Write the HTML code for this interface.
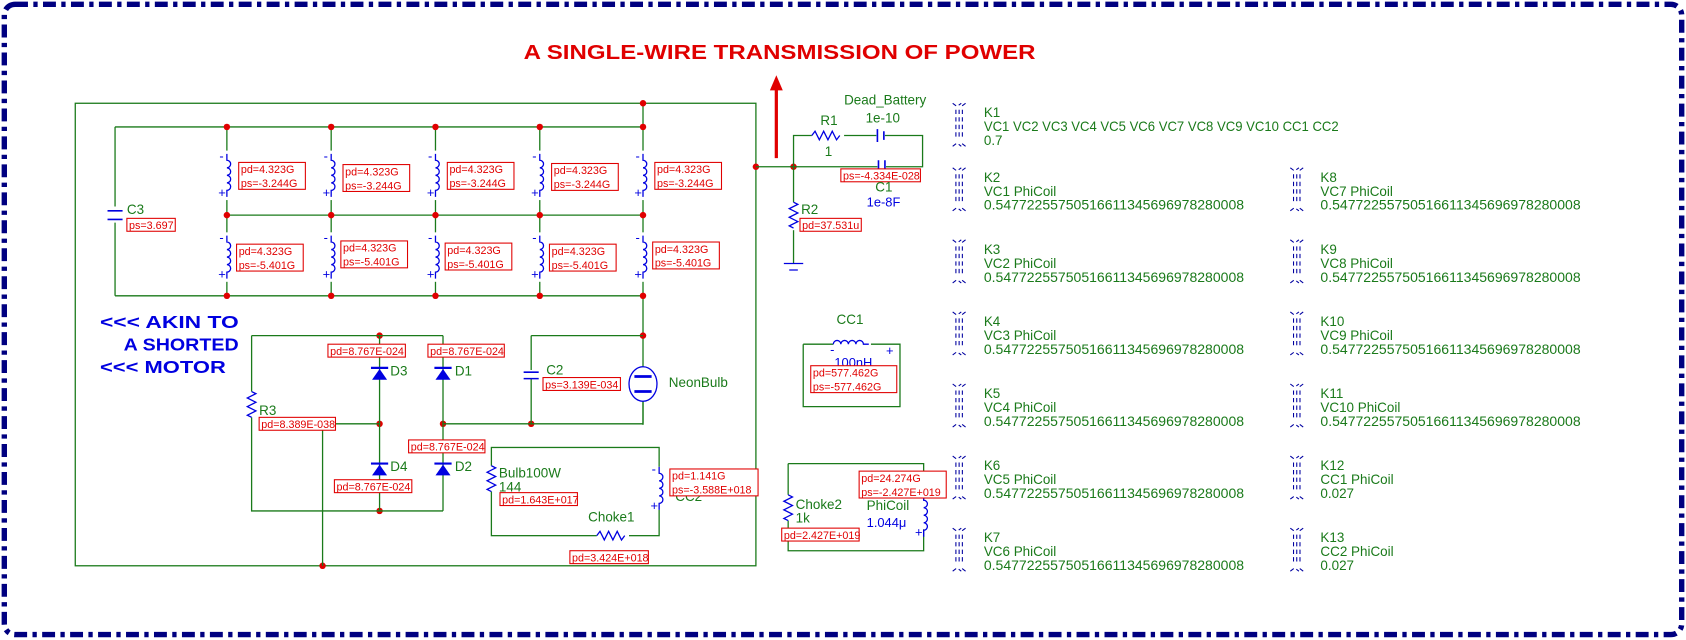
<!DOCTYPE html>
<html><head><meta charset="utf-8"><style>
html,body{margin:0;padding:0;background:#fff;}
svg{display:block;}
text{font-family:"Liberation Sans",sans-serif;}
.g{fill:#1a7a1a;font-size:12.5px;}
.b{fill:#0000e0;font-size:12px;}
.r{fill:#e00000;font-size:10px;}
.lb{fill:#fff;stroke:#e00000;stroke-width:1;}
.w{stroke:#1a7a1a;stroke-width:1.2;fill:none;}
.bl{stroke:#0000e0;stroke-width:1.2;fill:none;}
.k{stroke:#0000a0;stroke-width:1;fill:none;}
</style></head><body>
<svg width="1686" height="640" viewBox="0 0 1568 595" preserveAspectRatio="none" xmlns="http://www.w3.org/2000/svg">
<defs>
<g id="ind"><path d="M0 0 v6 a3.5 3.5 0 1 1 0 7 a3.5 3.5 0 1 1 0 7 a3.5 3.5 0 1 1 0 7 a3.5 3.5 0 1 1 0 7 v6" class="bl"/><text x="-7" y="6" class="b" font-size="9">-</text><text x="-8" y="40" class="b" font-size="9">+</text></g>
<g id="cp"><g class="k"><path d="M0 0 l4 3 l4 -3 M0 40 l4 -3 l4 3 M12 0 l-4 3 M12 40 l-4 -3 M3 6 v28 M6 6 v28 M9 6 v28" stroke-dasharray="4 3"/></g></g>
<g id="res"><path d="M0 0 l4 2 l-8 4 l8 4 l-8 4 l8 4 l-8 4 l4 2" class="bl"/></g>
</defs>
<rect x="4" y="4" width="1560" height="586" rx="10" fill="none" stroke="#000080" stroke-width="5" stroke-dasharray="12 5 4 5"/>
<text x="487" y="55" font-size="19" font-weight="bold" fill="#e00000" textLength="476" lengthAdjust="spacingAndGlyphs">A SINGLE-WIRE TRANSMISSION OF POWER</text>
<path d="M722 147 V80" stroke="#e00000" stroke-width="3"/><path d="M716 84 L722 70 L728 84Z" fill="#e00000"/>

<rect x="70" y="96" width="633" height="430" class="w"/>
<path class="w" d="M107 118 H598 M211 200 H598 M107 275 H598 M107 118 V192 M107 207 V275 M211 118 V275 M308 118 V275 M405 118 V275 M502 118 V275 M598 96 V395"/>
<path d="M100 196 H114 M100 204 H114" stroke="#0000e0" stroke-width="1.5"/>
<text x="118" y="199" class="g">C3</text>
<rect x="118" y="203" width="45" height="12" class="lb"/><text x="120" y="213" class="r">ps=3.697</text>

<g fill="#e00000">
<circle cx="598" cy="96" r="3"/>
<circle cx="211" cy="118" r="3"/><circle cx="308" cy="118" r="3"/><circle cx="405" cy="118" r="3"/><circle cx="502" cy="118" r="3"/><circle cx="598" cy="118" r="3"/>
<circle cx="211" cy="200" r="3"/><circle cx="308" cy="200" r="3"/><circle cx="405" cy="200" r="3"/><circle cx="502" cy="200" r="3"/><circle cx="598" cy="200" r="3"/>
<circle cx="211" cy="275" r="3"/><circle cx="308" cy="275" r="3"/><circle cx="405" cy="275" r="3"/><circle cx="502" cy="275" r="3"/><circle cx="598" cy="275" r="3"/>
<circle cx="353" cy="312" r="3"/><circle cx="598" cy="312" r="3"/><circle cx="353" cy="394" r="3"/><circle cx="412" cy="394" r="3"/><circle cx="494" cy="394" r="3"/><circle cx="353" cy="475" r="3"/><circle cx="300" cy="526" r="3"/>
<circle cx="703" cy="155" r="3"/><circle cx="738" cy="155" r="3"/>
</g>

<g>
<rect x="205" y="140" width="12" height="46" fill="#fff"/><use href="#ind" x="211" y="143"/>
<rect x="302" y="140" width="12" height="46" fill="#fff"/><use href="#ind" x="308" y="143"/>
<rect x="399" y="140" width="12" height="46" fill="#fff"/><use href="#ind" x="405" y="143"/>
<rect x="496" y="140" width="12" height="46" fill="#fff"/><use href="#ind" x="502" y="143"/>
<rect x="592" y="140" width="12" height="46" fill="#fff"/><use href="#ind" x="598" y="143"/>
<rect x="205" y="216" width="12" height="46" fill="#fff"/><use href="#ind" x="211" y="219"/>
<rect x="302" y="216" width="12" height="46" fill="#fff"/><use href="#ind" x="308" y="219"/>
<rect x="399" y="216" width="12" height="46" fill="#fff"/><use href="#ind" x="405" y="219"/>
<rect x="496" y="216" width="12" height="46" fill="#fff"/><use href="#ind" x="502" y="219"/>
<rect x="592" y="216" width="12" height="46" fill="#fff"/><use href="#ind" x="598" y="219"/>
</g>
<g>
<rect x="222" y="151" width="62" height="25" class="lb"/><text x="224" y="161" class="r">pd=4.323G</text><text x="224" y="174" class="r">ps=-3.244G</text>
<rect x="319" y="153" width="62" height="25" class="lb"/><text x="321" y="163" class="r">pd=4.323G</text><text x="321" y="176" class="r">ps=-3.244G</text>
<rect x="416" y="151" width="62" height="25" class="lb"/><text x="418" y="161" class="r">pd=4.323G</text><text x="418" y="174" class="r">ps=-3.244G</text>
<rect x="513" y="152" width="62" height="25" class="lb"/><text x="515" y="162" class="r">pd=4.323G</text><text x="515" y="175" class="r">ps=-3.244G</text>
<rect x="609" y="151" width="62" height="25" class="lb"/><text x="611" y="161" class="r">pd=4.323G</text><text x="611" y="174" class="r">ps=-3.244G</text>
<rect x="220" y="227" width="62" height="25" class="lb"/><text x="222" y="237" class="r">pd=4.323G</text><text x="222" y="250" class="r">ps=-5.401G</text>
<rect x="317" y="224" width="62" height="25" class="lb"/><text x="319" y="234" class="r">pd=4.323G</text><text x="319" y="247" class="r">ps=-5.401G</text>
<rect x="414" y="226" width="62" height="25" class="lb"/><text x="416" y="236" class="r">pd=4.323G</text><text x="416" y="249" class="r">ps=-5.401G</text>
<rect x="511" y="227" width="62" height="25" class="lb"/><text x="513" y="237" class="r">pd=4.323G</text><text x="513" y="250" class="r">ps=-5.401G</text>
<rect x="607" y="225" width="62" height="25" class="lb"/><text x="609" y="235" class="r">pd=4.323G</text><text x="609" y="248" class="r">ps=-5.401G</text>
</g>

<text x="93" y="305" font-size="16" font-weight="bold" fill="#0000e0" textLength="129" lengthAdjust="spacingAndGlyphs">&lt;&lt;&lt; AKIN TO</text>
<text x="115" y="326" font-size="16" font-weight="bold" fill="#0000e0" textLength="107" lengthAdjust="spacingAndGlyphs">A SHORTED</text>
<text x="93" y="347" font-size="16" font-weight="bold" fill="#0000e0" textLength="117" lengthAdjust="spacingAndGlyphs">&lt;&lt;&lt; MOTOR</text>

<path class="w" d="M234 312 H412 M234 312 V364 M234 388 V475 H412 M353 312 V475 M412 312 V475 M311 394 H353 M412 394 H598 M300 394 V526 M494 312 H598 M494 312 V344 M494 352 V394 M598 372 V394"/>
<use href="#res" x="234" y="364"/>
<text x="241" y="386" class="g">R3</text>
<rect x="241" y="388" width="71" height="12" class="lb"/><text x="243" y="398" class="r">pd=8.389E-038</text>
<path d="M487 346 H501 M487 352 H501" stroke="#0000e0" stroke-width="1.5"/>
<text x="508" y="348" class="g">C2</text>
<rect x="505" y="351" width="72" height="12" class="lb"/><text x="507" y="361" class="r">ps=3.139E-034</text>
<ellipse cx="598" cy="357" rx="13" ry="16" fill="#fff" stroke="#0000e0" stroke-width="1.2"/>
<path d="M590 350 H606 M590 364 H606" stroke="#0000e0" stroke-width="2.5"/>
<text x="622" y="360" class="g">NeonBulb</text>
<g fill="#0000e0">
<path d="M346 353 L360 353 L353 343Z"/><path d="M345 342 H361" stroke="#0000e0" stroke-width="2"/>
<path d="M405 353 L419 353 L412 343Z"/><path d="M404 342 H420" stroke="#0000e0" stroke-width="2"/>
<path d="M346 442 L360 442 L353 432Z"/><path d="M345 431 H361" stroke="#0000e0" stroke-width="2"/>
<path d="M405 442 L419 442 L412 432Z"/><path d="M404 431 H420" stroke="#0000e0" stroke-width="2"/>
</g>
<text x="363" y="349" class="g">D3</text><text x="423" y="349" class="g">D1</text>
<text x="363" y="438" class="g">D4</text><text x="423" y="438" class="g">D2</text>
<rect x="305" y="320" width="72" height="12" class="lb"/><text x="307" y="330" class="r">pd=8.767E-024</text>
<rect x="398" y="320" width="71" height="12" class="lb"/><text x="400" y="330" class="r">pd=8.767E-024</text>
<rect x="380" y="409" width="71" height="12" class="lb"/><text x="382" y="419" class="r">pd=8.767E-024</text>
<rect x="311" y="446" width="72" height="12" class="lb"/><text x="313" y="456" class="r">pd=8.767E-024</text>

<rect x="457" y="416" width="156" height="82" class="w"/>
<rect x="452" y="433" width="10" height="24" fill="#fff"/><use href="#res" x="457" y="433"/>
<text x="464" y="444" class="g">Bulb100W</text><text x="464" y="457" class="g">144</text>
<rect x="465" y="458" width="72" height="12" class="lb"/><text x="467" y="468" class="r">pd=1.643E+017</text>
<rect x="606" y="434" width="14" height="40" fill="#fff"/><use href="#ind" x="613" y="434"/>
<text x="628" y="466" class="g">CC2</text>
<rect x="623" y="436" width="82" height="25" class="lb"/><text x="625" y="446" class="r">pd=1.141G</text><text x="625" y="459" class="r">ps=-3.588E+018</text>
<rect x="555" y="494" width="30" height="8" fill="#fff"/>
<path d="M555 498 l3 -4 l4 8 l4 -8 l4 8 l4 -8 l4 8 l3 -4" class="bl"/>
<text x="547" y="485" class="g">Choke1</text>
<rect x="530" y="512" width="73" height="12" class="lb"/><text x="532" y="522" class="r">pd=3.424E+018</text>

<path class="w" d="M703 155 H858 V126 H738 V155 M738 155 V245"/>
<rect x="755" y="122" width="30" height="8" fill="#fff"/>
<path d="M755 126 l3 -4 l4 8 l4 -8 l4 8 l4 -8 l4 8 l3 -4" class="bl"/>
<rect x="815" y="120" width="8" height="12" fill="#fff"/>
<path d="M816 120 V132 M822 122 V130" stroke="#0000e0" stroke-width="1.5"/>
<rect x="816" y="149" width="8" height="12" fill="#fff"/>
<path d="M817 149 V161 M823 149 V161" stroke="#0000e0" stroke-width="1.5"/>
<text x="785" y="97" class="g">Dead_Battery</text>
<text x="805" y="114" class="g">1e-10</text>
<text x="763" y="116" class="g">R1</text><text x="767" y="145" class="g">1</text>
<rect x="782" y="157" width="74" height="12" class="lb"/><text x="784" y="167" class="r">ps=-4.334E-028</text>
<text x="814" y="178" class="g">C1</text><text x="806" y="192" class="b">1e-8F</text>
<rect x="733" y="188" width="10" height="26" fill="#fff"/><use href="#res" x="738" y="188"/>
<text x="745" y="199" class="g">R2</text>
<rect x="744" y="203" width="57" height="12" class="lb"/><text x="746" y="213" class="r">pd=37.531u</text>
<path d="M729 245 H747 M734 251 H742" stroke="#0000e0" stroke-width="1.2"/>

<path class="w" d="M747 320 V378 H837 V320 H810 M747 320 H775"/>
<path d="M775 320 a3.5 3.5 0 1 1 7 0 a3.5 3.5 0 1 1 7 0 a3.5 3.5 0 1 1 7 0 a3.5 3.5 0 1 1 7 0 h5" class="bl"/>
<text x="778" y="301" class="g">CC1</text>
<text x="776" y="341" class="b">100nH</text>
<text x="772" y="329" class="b" font-size="9">-</text><text x="824" y="330" class="b" font-size="9">+</text>
<rect x="754" y="340" width="80" height="25" class="lb"/><text x="756" y="350" class="r">pd=577.462G</text><text x="756" y="363" class="r">ps=-577.462G</text>

<path class="w" d="M733 431 H859 V465 M859 492 V512 H733 V431"/>
<rect x="728" y="460" width="10" height="24" fill="#fff"/><use href="#res" x="733" y="460"/>
<text x="740" y="473" class="g">Choke2</text><text x="740" y="486" class="g">1k</text>
<rect x="727" y="491" width="72" height="12" class="lb"/><text x="729" y="501" class="r">pd=2.427E+019</text>
<use href="#ind" x="859" y="459"/>
<rect x="799" y="438" width="81" height="25" class="lb"/><text x="801" y="448" class="r">pd=24.274G</text><text x="801" y="461" class="r">ps=-2.427E+019</text>
<text x="806" y="474" class="g">PhiCoil</text><text x="806" y="490" class="b">1.044μ</text>

<g>
<use href="#cp" x="886" y="96"/>
<text x="915" y="109" class="g">K1</text><text x="915" y="122" class="g" textLength="330" lengthAdjust="spacingAndGlyphs">VC1 VC2 VC3 VC4 VC5 VC6 VC7 VC8 VC9 VC10 CC1 CC2</text><text x="915" y="135" class="g">0.7</text>
<use href="#cp" x="886" y="156"/><text x="915" y="169" class="g">K2</text><text x="915" y="182" class="g">VC1 PhiCoil</text><text x="915" y="195" class="g" textLength="242" lengthAdjust="spacingAndGlyphs">0.54772255750516611345696978280008</text>
<use href="#cp" x="886" y="223"/><text x="915" y="236" class="g">K3</text><text x="915" y="249" class="g">VC2 PhiCoil</text><text x="915" y="262" class="g" textLength="242" lengthAdjust="spacingAndGlyphs">0.54772255750516611345696978280008</text>
<use href="#cp" x="886" y="290"/><text x="915" y="303" class="g">K4</text><text x="915" y="316" class="g">VC3 PhiCoil</text><text x="915" y="329" class="g" textLength="242" lengthAdjust="spacingAndGlyphs">0.54772255750516611345696978280008</text>
<use href="#cp" x="886" y="357"/><text x="915" y="370" class="g">K5</text><text x="915" y="383" class="g">VC4 PhiCoil</text><text x="915" y="396" class="g" textLength="242" lengthAdjust="spacingAndGlyphs">0.54772255750516611345696978280008</text>
<use href="#cp" x="886" y="424"/><text x="915" y="437" class="g">K6</text><text x="915" y="450" class="g">VC5 PhiCoil</text><text x="915" y="463" class="g" textLength="242" lengthAdjust="spacingAndGlyphs">0.54772255750516611345696978280008</text>
<use href="#cp" x="886" y="491"/><text x="915" y="504" class="g">K7</text><text x="915" y="517" class="g">VC6 PhiCoil</text><text x="915" y="530" class="g" textLength="242" lengthAdjust="spacingAndGlyphs">0.54772255750516611345696978280008</text>
<use href="#cp" x="1200" y="156"/><text x="1228" y="169" class="g">K8</text><text x="1228" y="182" class="g">VC7 PhiCoil</text><text x="1228" y="195" class="g" textLength="242" lengthAdjust="spacingAndGlyphs">0.54772255750516611345696978280008</text>
<use href="#cp" x="1200" y="223"/><text x="1228" y="236" class="g">K9</text><text x="1228" y="249" class="g">VC8 PhiCoil</text><text x="1228" y="262" class="g" textLength="242" lengthAdjust="spacingAndGlyphs">0.54772255750516611345696978280008</text>
<use href="#cp" x="1200" y="290"/><text x="1228" y="303" class="g">K10</text><text x="1228" y="316" class="g">VC9 PhiCoil</text><text x="1228" y="329" class="g" textLength="242" lengthAdjust="spacingAndGlyphs">0.54772255750516611345696978280008</text>
<use href="#cp" x="1200" y="357"/><text x="1228" y="370" class="g">K11</text><text x="1228" y="383" class="g">VC10 PhiCoil</text><text x="1228" y="396" class="g" textLength="242" lengthAdjust="spacingAndGlyphs">0.54772255750516611345696978280008</text>
<use href="#cp" x="1200" y="424"/><text x="1228" y="437" class="g">K12</text><text x="1228" y="450" class="g">CC1 PhiCoil</text><text x="1228" y="463" class="g">0.027</text>
<use href="#cp" x="1200" y="491"/><text x="1228" y="504" class="g">K13</text><text x="1228" y="517" class="g">CC2 PhiCoil</text><text x="1228" y="530" class="g">0.027</text>
</g>
</svg>
</body></html>
